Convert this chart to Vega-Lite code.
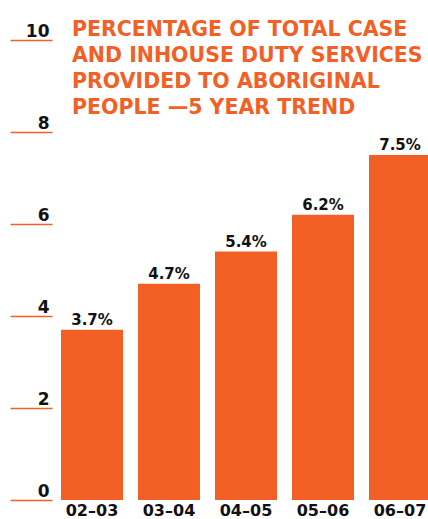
{
  "$schema": "https://vega.github.io/schema/vega-lite/v6.json",
  "autosize": {"type": "none"},
  "width": 376,
  "height": 460,
  "padding": {"left": 52, "top": 40, "right": 0, "bottom": 19},
  "background": "white",
  "title": {
    "text": ["PERCENTAGE OF TOTAL CASE", "AND INHOUSE DUTY SERVICES", "PROVIDED TO ABORIGINAL", "PEOPLE —5 YEAR TREND"],
    "anchor": "start",
    "frame": "group",
    "orient": "top",
    "baseline": "top",
    "offset": 0,
    "dx": 20,
    "dy": 96,
    "font": "DejaVu Sans",
    "fontSize": 20.5,
    "fontWeight": "bold",
    "lineHeight": 26,
    "color": "#F26025"
  },
  "data": {
    "values": [
      {"year": "02–03", "pct": 3.7, "label": "3.7%"},
      {"year": "03–04", "pct": 4.7, "label": "4.7%"},
      {"year": "04–05", "pct": 5.4, "label": "5.4%"},
      {"year": "05–06", "pct": 6.2, "label": "6.2%"},
      {"year": "06–07", "pct": 7.5, "label": "7.5%"}
    ]
  },
  "config": {"view": {"stroke": null}},
  "encoding": {
    "x": {
      "field": "year",
      "type": "ordinal",
      "sort": null,
      "scale": {"range": [9, 379], "paddingInner": 0.195, "paddingOuter": 0},
      "axis": {
        "title": null,
        "domain": false,
        "ticks": false,
        "labelAngle": 0,
        "labelPadding": 2,
        "labelFont": "DejaVu Sans",
        "labelFontSize": 16,
        "labelFontWeight": 600,
        "labelColor": "#111111"
      }
    },
    "y": {
      "field": "pct",
      "type": "quantitative",
      "scale": {"domain": [0, 10], "nice": false, "zero": true},
      "axis": {
        "title": null,
        "domain": false,
        "grid": false,
        "values": [0, 2, 4, 6, 8, 10],
        "tickColor": "#F26025",
        "tickSize": 42,
        "tickWidth": 1.5,
        "labelPadding": -39,
        "labelAlign": "right",
        "labelBaseline": "alphabetic",
        "labelOffset": -4,
        "labelFont": "DejaVu Sans",
        "labelFontSize": 17,
        "labelFontWeight": "bold",
        "labelColor": "#111111"
      }
    }
  },
  "layer": [
    {"mark": {"type": "bar", "color": "#F26025"}},
    {
      "mark": {"type": "text", "baseline": "alphabetic", "dy": -5, "font": "DejaVu Sans", "fontSize": 15, "fontWeight": "bold", "color": "#111111"},
      "encoding": {"text": {"field": "label"}}
    }
  ]
}
